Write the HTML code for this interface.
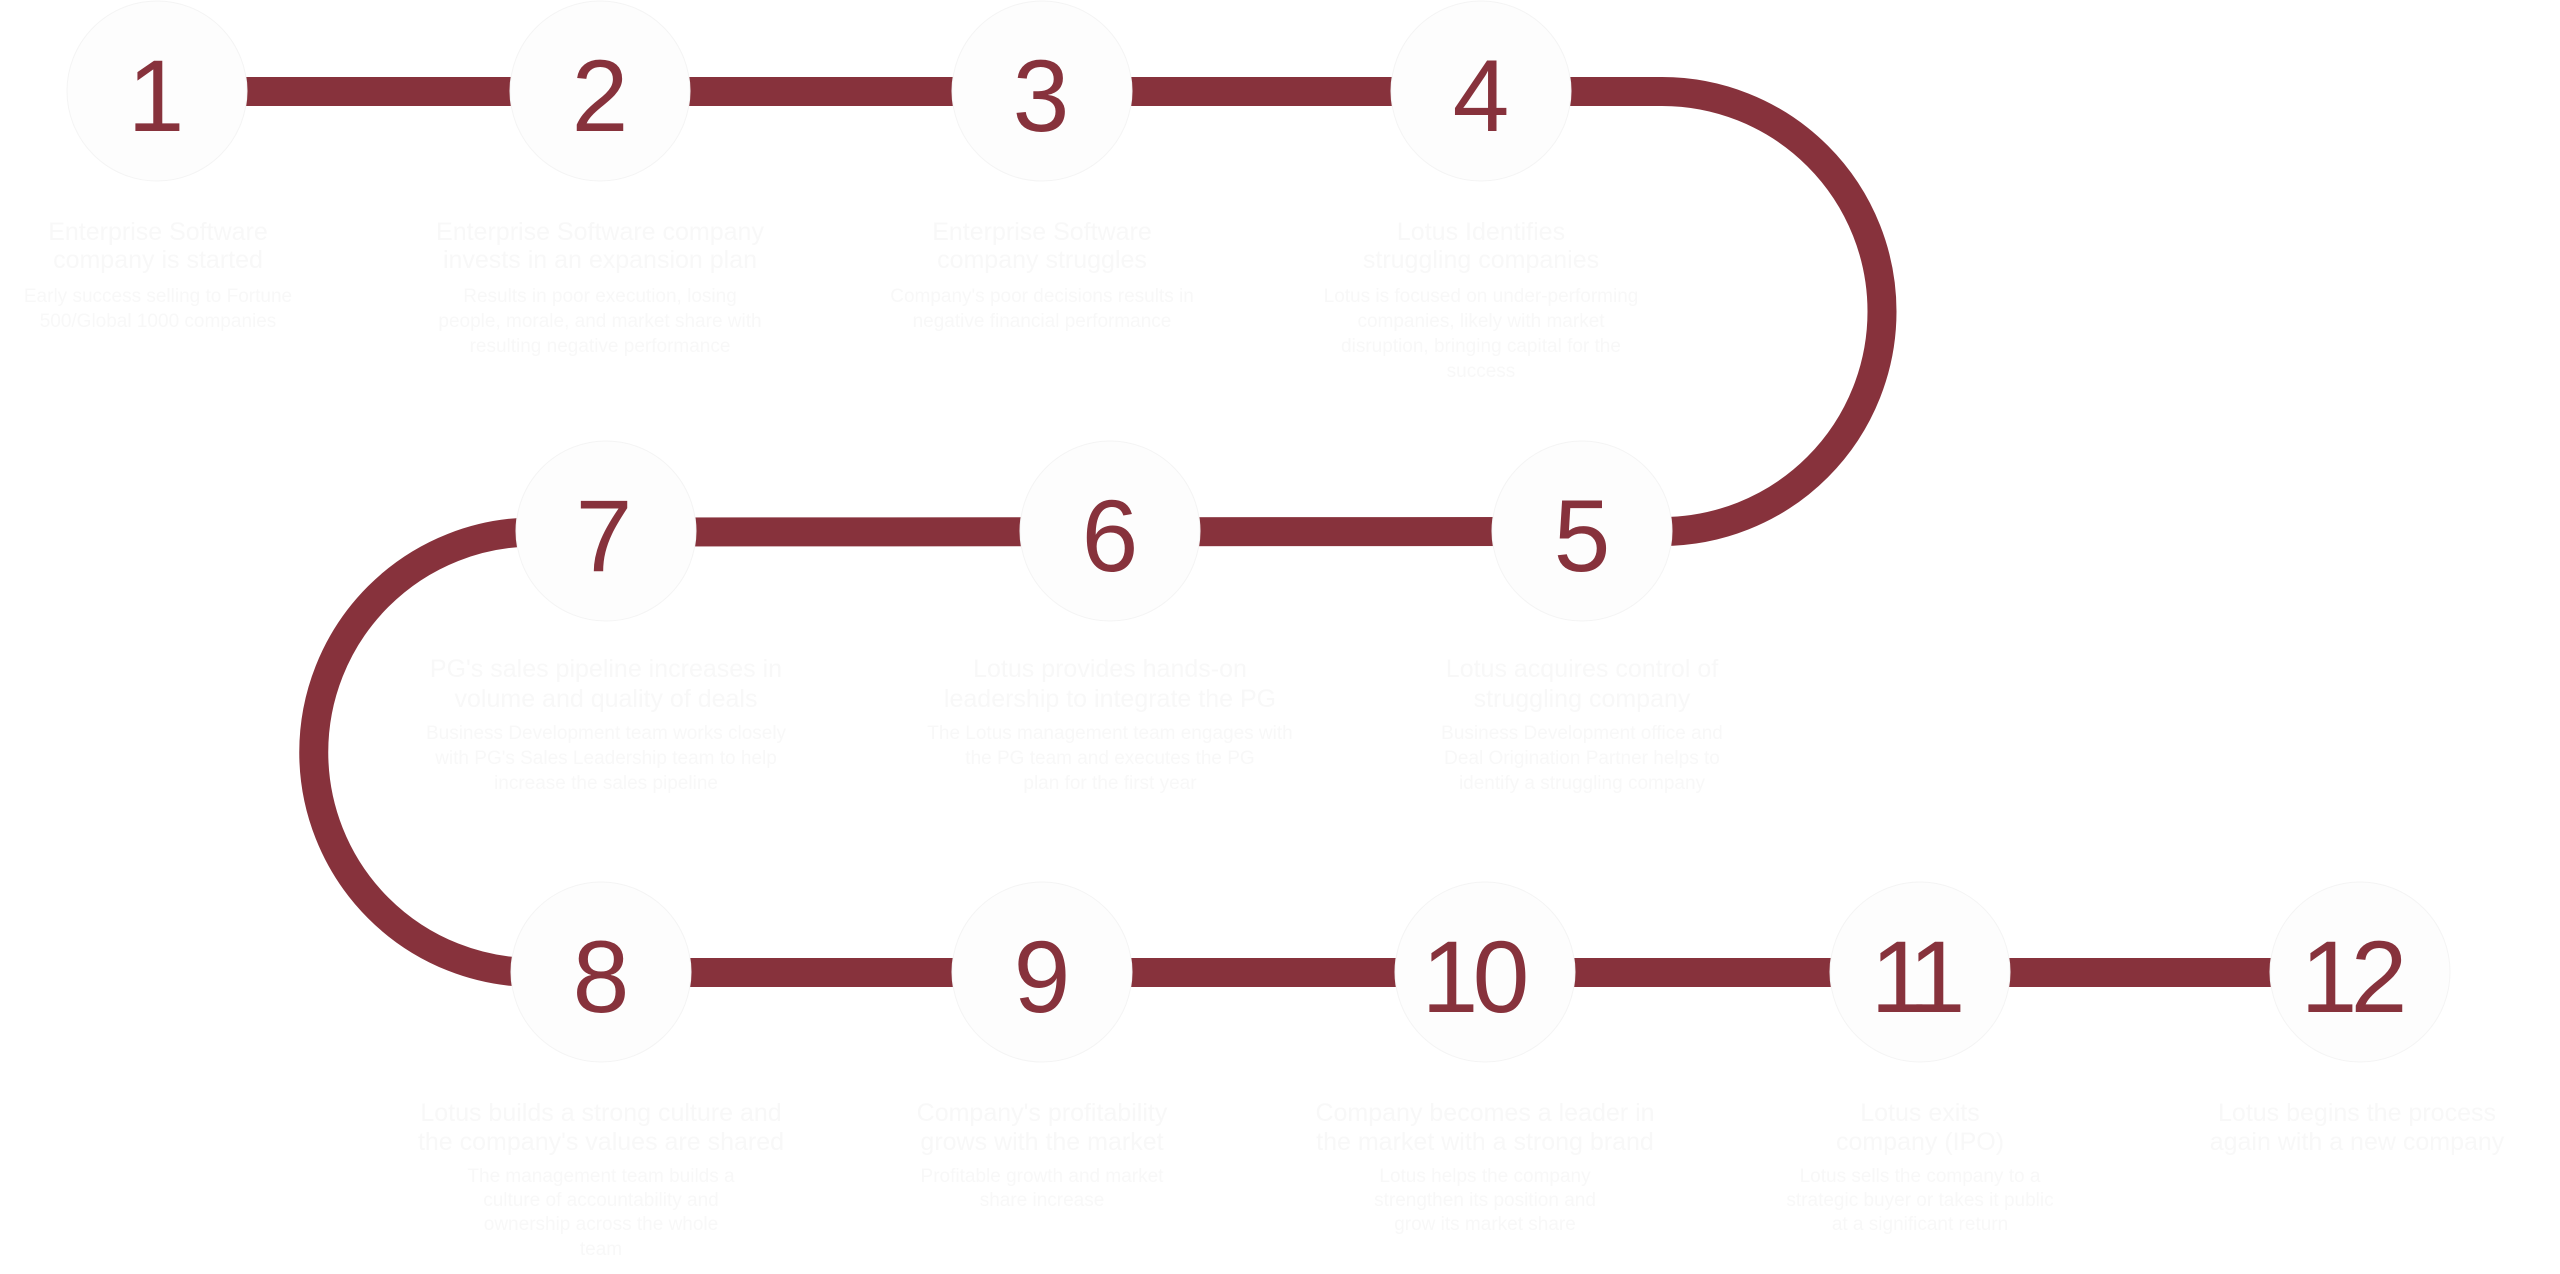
<!DOCTYPE html>
<html>
<head>
<meta charset="utf-8">
<style>
  html, body { margin: 0; padding: 0; background: #ffffff; }
  body { width: 2560px; height: 1274px; overflow: hidden; }
  svg { display: block; }
  .num { font-family: "Liberation Sans", "DejaVu Sans", sans-serif; font-size: 102px; fill: #87323c; }
  .t { font-family: "Liberation Sans", "DejaVu Sans", sans-serif; font-size: 25px; fill: #f8f8f8; text-anchor: middle; }
  .s { font-family: "Liberation Sans", "DejaVu Sans", sans-serif; font-size: 19px; fill: #f8f8f8; text-anchor: middle; }
</style>
</head>
<body>
<svg width="2560" height="1274" viewBox="0 0 2560 1274" xmlns="http://www.w3.org/2000/svg">
  <rect x="0" y="0" width="2560" height="1274" fill="#ffffff"/>

  <!-- connector path -->
  <g fill="none" stroke="#87323c" stroke-width="29">
    <path d="M 157 91.5 L 1662 91.5 A 220 220 0 0 1 1662 531.5 L 534 532 A 220.25 220.25 0 0 0 534 972.5 L 2360 972.5"/>
  </g>

  <!-- circles -->
  <g fill="#fdfdfd" stroke="#f4f4f4" stroke-width="1">
    <circle cx="157" cy="91" r="90"/>
    <circle cx="600" cy="91" r="90"/>
    <circle cx="1042" cy="91" r="90"/>
    <circle cx="1481" cy="91" r="90"/>
    <circle cx="1582" cy="531" r="90"/>
    <circle cx="1110" cy="531" r="90"/>
    <circle cx="606" cy="531" r="90"/>
    <circle cx="601" cy="972" r="90"/>
    <circle cx="1042" cy="972" r="90"/>
    <circle cx="1485" cy="972" r="90"/>
    <circle cx="1920" cy="972" r="90"/>
    <circle cx="2360" cy="972" r="90"/>
  </g>

  <!-- numbers -->
  <g class="num" text-anchor="middle">
    <text x="156" y="131">1</text>
    <text x="600" y="131">2</text>
    <text x="1041" y="131">3</text>
    <text x="1481" y="131">4</text>
    <text x="1582" y="571">5</text>
    <text x="1110" y="571">6</text>
    <text x="604" y="571">7</text>
    <text x="601" y="1012">8</text>
    <text x="1042" y="1012">9</text>
    <text y="1012"><tspan x="1450">1</tspan><tspan x="1501">0</tspan></text>
    <text y="1012"><tspan x="1899">1</tspan><tspan x="1937">1</tspan></text>
    <text y="1012"><tspan x="2329">1</tspan><tspan x="2379">2</tspan></text>
  </g>

  <!-- row 1 captions -->
  <text class="t" x="158" y="240">Enterprise Software</text>
  <text class="t" x="158" y="268">company is started</text>
  <text class="s" x="158" y="302">Early success selling to Fortune</text>
  <text class="s" x="158" y="327">500/Global 1000 companies</text>

  <text class="t" x="600" y="240">Enterprise Software company</text>
  <text class="t" x="600" y="268">invests in an expansion plan</text>
  <text class="s" x="600" y="302">Results in poor execution, losing</text>
  <text class="s" x="600" y="327">people, morale, and market share with</text>
  <text class="s" x="600" y="352">resulting negative performance</text>

  <text class="t" x="1042" y="240">Enterprise Software</text>
  <text class="t" x="1042" y="268">company struggles</text>
  <text class="s" x="1042" y="302">Company's poor decisions results in</text>
  <text class="s" x="1042" y="327">negative financial performance</text>

  <text class="t" x="1481" y="240">Lotus Identifies</text>
  <text class="t" x="1481" y="268">struggling companies</text>
  <text class="s" x="1481" y="302">Lotus is focused on under-performing</text>
  <text class="s" x="1481" y="327">companies, likely with market</text>
  <text class="s" x="1481" y="352">disruption, bringing capital for the</text>
  <text class="s" x="1481" y="377">success</text>

  <!-- row 2 captions -->
  <text class="t" x="1582" y="677">Lotus acquires control of</text>
  <text class="t" x="1582" y="707">struggling company</text>
  <text class="s" x="1582" y="739">Business Development office and</text>
  <text class="s" x="1582" y="764">Deal Origination Partner helps to</text>
  <text class="s" x="1582" y="789">identify a struggling company</text>

  <text class="t" x="1110" y="677">Lotus provides hands-on</text>
  <text class="t" x="1110" y="707">leadership to integrate the PG</text>
  <text class="s" x="1110" y="739">The Lotus management team engages with</text>
  <text class="s" x="1110" y="764">the PG team and executes the PG</text>
  <text class="s" x="1110" y="789">plan for the first year</text>

  <text class="t" x="606" y="677">PG's sales pipeline increases in</text>
  <text class="t" x="606" y="707">volume and quality of deals</text>
  <text class="s" x="606" y="739">Business Development team works closely</text>
  <text class="s" x="606" y="764">with PG's Sales Leadership team to help</text>
  <text class="s" x="606" y="789">increase the sales pipeline</text>

  <!-- row 3 captions -->
  <text class="t" x="601" y="1121">Lotus builds a strong culture and</text>
  <text class="t" x="601" y="1150">the company's values are shared</text>
  <text class="s" x="601" y="1182">The management team builds a</text>
  <text class="s" x="601" y="1206">culture of accountability and</text>
  <text class="s" x="601" y="1230">ownership across the whole</text>
  <text class="s" x="601" y="1255">team</text>

  <text class="t" x="1042" y="1121">Company's profitability</text>
  <text class="t" x="1042" y="1150">grows with the market</text>
  <text class="s" x="1042" y="1182">Profitable growth and market</text>
  <text class="s" x="1042" y="1206">share increase</text>

  <text class="t" x="1485" y="1121">Company becomes a leader in</text>
  <text class="t" x="1485" y="1150">the market with a strong brand</text>
  <text class="s" x="1485" y="1182">Lotus helps the company</text>
  <text class="s" x="1485" y="1206">strengthen its position and</text>
  <text class="s" x="1485" y="1230">grow its market share</text>

  <text class="t" x="1920" y="1121">Lotus exits</text>
  <text class="t" x="1920" y="1150">company (IPO)</text>
  <text class="s" x="1920" y="1182">Lotus sells the company to a</text>
  <text class="s" x="1920" y="1206">strategic buyer or takes it public</text>
  <text class="s" x="1920" y="1230">at a significant return</text>

  <text class="t" x="2357" y="1121">Lotus begins the process</text>
  <text class="t" x="2357" y="1150">again with a new company</text>
</svg>
</body>
</html>
